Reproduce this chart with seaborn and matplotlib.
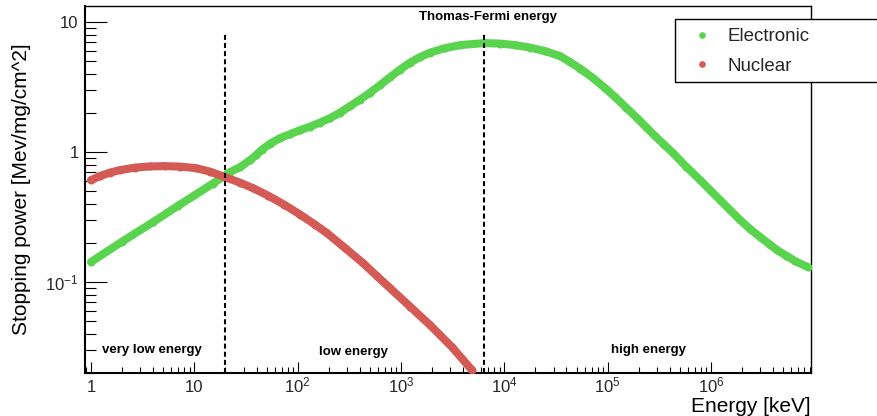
import numpy as np
import pandas as pd
import seaborn as sns
import matplotlib
matplotlib.use("Agg")
import matplotlib.pyplot as plt
from matplotlib.lines import Line2D
from matplotlib.patches import Rectangle
from matplotlib.ticker import LogLocator, NullFormatter

# Electronic stopping power [MeV/mg/cm^2] versus energy [keV]
energy_e = [1.0, 2.0, 4.0, 7.0, 10.0, 15.0, 20.0, 22.2, 27.7, 34.6, 39.6, 45.2,
            54.1, 67.5, 84.4, 105.5, 131.8, 164.8, 205.9, 257.3, 321.6, 401.9,
            502.2, 627.8, 784.5, 980, 1225, 1531, 1913, 2673, 3734, 6376,
            9106, 12720, 17780, 24830, 34700, 43350, 54170, 72370, 94600,
            118200, 151100, 193100, 235900, 288400, 352400, 430700, 575300,
            786300, 982500, 1.228e6, 1.535e6, 1.918e6, 2.396e6, 2.995e6,
            3.742e6, 4.374e6, 5.346e6, 6.534e6, 8.730e6]
stopping_e = [0.143, 0.205, 0.290, 0.388, 0.464, 0.571, 0.665, 0.702, 0.767,
              0.868, 0.948, 1.045, 1.162, 1.281, 1.375, 1.476, 1.571, 1.687,
              1.826, 2.013, 2.259, 2.534, 2.870, 3.277, 3.776, 4.311, 4.881,
              5.380, 5.828, 6.310, 6.654, 6.894, 6.833, 6.654, 6.366, 5.984,
              5.476, 4.924, 4.389, 3.709, 3.107, 2.649, 2.199, 1.826, 1.557,
              1.328, 1.142, 0.982, 0.774, 0.609, 0.510, 0.427, 0.358, 0.300,
              0.256, 0.222, 0.194, 0.176, 0.160, 0.145, 0.130]

# Nuclear stopping power
energy_n = [1.0, 1.222, 1.527, 1.909, 2.667, 3.726, 5.205, 7.271, 10.39, 14.19,
            19.83, 27.7, 37.0, 51.7, 73.9, 105.5, 147.4, 192.6, 287.6, 429.8,
            587.1, 784.5, 1225, 1913, 3124, 4879]
stopping_n = [0.609, 0.654, 0.696, 0.727, 0.760, 0.776, 0.780, 0.774, 0.753,
              0.708, 0.642, 0.582, 0.528, 0.463, 0.395, 0.331, 0.277, 0.238,
              0.183, 0.140, 0.111, 0.0899, 0.0648, 0.0467, 0.0316, 0.0210]

series_names = ["Electronic", "Nuclear"]
series_colors = ["#5AD44F", "#D45A55"]

# Energy regimes
region_bounds = [20, 6400]
region_bound_top = 8.2
region_labels = ["very low energy", "low energy", "high energy"]
region_label_x = [3.9, 345, 2.5e5]
region_label_y = [0.0284, 0.0275, 0.0287]
tf_label = "Thomas-Fermi energy"
tf_label_pos = (7000, 10.4)

x_tick_values = [1, 10, 1e2, 1e3, 1e4, 1e5, 1e6]
x_tick_labels = ["1", "10", r"$10^{2}$", r"$10^{3}$", r"$10^{4}$",
                 r"$10^{5}$", r"$10^{6}$"]
y_tick_values = [0.1, 1, 10]
y_tick_labels = [r"$10^{-1}$", "1", "10"]

sns.set_theme(style="white")
plt.rcParams["font.family"] = ["Liberation Sans", "DejaVu Sans"]
plt.rcParams["mathtext.fontset"] = "custom"
plt.rcParams["mathtext.rm"] = "Liberation Sans"
plt.rcParams["mathtext.it"] = "Liberation Sans:italic"
plt.rcParams["mathtext.bf"] = "Liberation Sans:bold"

W, H = 878, 416
fig = plt.figure(figsize=(W / 100, H / 100), dpi=100)
fig.patch.set_facecolor("white")
ax = fig.add_axes([85 / W, 1 - 373 / H, (811 - 85) / W, (373 - 6) / H])

df_e = pd.DataFrame({"energy": energy_e, "stopping": stopping_e})
df_n = pd.DataFrame({"energy": energy_n, "stopping": stopping_n})

for df, col in zip([df_e, df_n], series_colors):
    sns.lineplot(data=df, x="energy", y="stopping", ax=ax, color=col,
                 linewidth=5.8, marker="o", markersize=5.8,
                 markeredgewidth=0, solid_capstyle="round",
                 solid_joinstyle="round", legend=False, zorder=3)

ax.set_xscale("log")
ax.set_yscale("log")
ax.set_xlim(0.875, 9.3e6)
ax.set_ylim(0.02, 13.3)

# Regime boundaries
ax.vlines(region_bounds, 0.02, region_bound_top, colors="black",
          linestyles=(0, (2.4, 1.5)), linewidth=1.5, zorder=4)

for lbl, xv, yv in zip(region_labels, region_label_x, region_label_y):
    ax.text(xv, yv, lbl, ha="center", va="baseline", fontsize=9.5,
            fontweight="bold", color="black")
ax.text(tf_label_pos[0], tf_label_pos[1], tf_label, ha="center",
        va="baseline", fontsize=9.5, fontweight="bold", color="black")

# Axes styling
ax.set_xticks(x_tick_values, x_tick_labels)
ax.set_yticks(y_tick_values, y_tick_labels)
ax.xaxis.set_minor_locator(LogLocator(base=10, subs=np.arange(2, 10), numticks=30))
ax.yaxis.set_minor_locator(LogLocator(base=10, subs=np.arange(2, 10), numticks=30))
ax.xaxis.set_minor_formatter(NullFormatter())
ax.yaxis.set_minor_formatter(NullFormatter())

ax.tick_params(axis="x", which="major", direction="in", length=7.6, width=0.8,
               color="black", labelsize=12, pad=13.7, bottom=True, top=False)
ax.tick_params(axis="x", which="minor", direction="in", length=4.0, width=0.8,
               color="black", bottom=True, top=False)
ax.tick_params(axis="y", which="major", direction="in", length=15.8, width=0.8,
               color="black", labelsize=12, pad=4.5, left=True, right=False)
ax.tick_params(axis="y", which="minor", direction="in", length=7.9, width=0.8,
               color="black", left=True, right=False)
for lbl in ax.get_xticklabels():
    lbl.set_verticalalignment("baseline")

for side in ["left", "bottom"]:
    ax.spines[side].set_linewidth(1.5)
    ax.spines[side].set_color("black")
for side in ["top", "right"]:
    ax.spines[side].set_linewidth(1.0)
    ax.spines[side].set_color("black")

ax.set_xlabel("Energy [keV]", fontsize=15, color="black")
ax.xaxis.label.set_horizontalalignment("right")
ax.xaxis.label.set_verticalalignment("baseline")
ax.xaxis.set_label_coords(1.0, (373 - 411.5) / 367)

ax.set_ylabel("Stopping power [Mev/mg/cm^2]", fontsize=15, color="black")
ax.yaxis.label.set_verticalalignment("baseline")
ax.yaxis.set_label_coords((27 - 85) / 726, (373 - 189.5) / 367)

# Legend box
fig.patches.append(Rectangle((675 / W, 1 - 82 / H), 220 / W, 63 / H,
                             transform=fig.transFigure, facecolor="white",
                             edgecolor="black", linewidth=1.0, zorder=2))
handles = [Line2D([], [], linestyle="none", marker="o", markersize=4.8,
                  markeredgewidth=0, color=c) for c in series_colors]
fig.legend(handles, series_names, loc="center left",
           bbox_to_anchor=(692.6 / W, 1 - 51.5 / H), frameon=False,
           fontsize=13.5, handlelength=1.0, handletextpad=0.85,
           labelspacing=0.65, borderpad=0, borderaxespad=0)

fig.savefig("out.png", dpi=100, facecolor="white")
